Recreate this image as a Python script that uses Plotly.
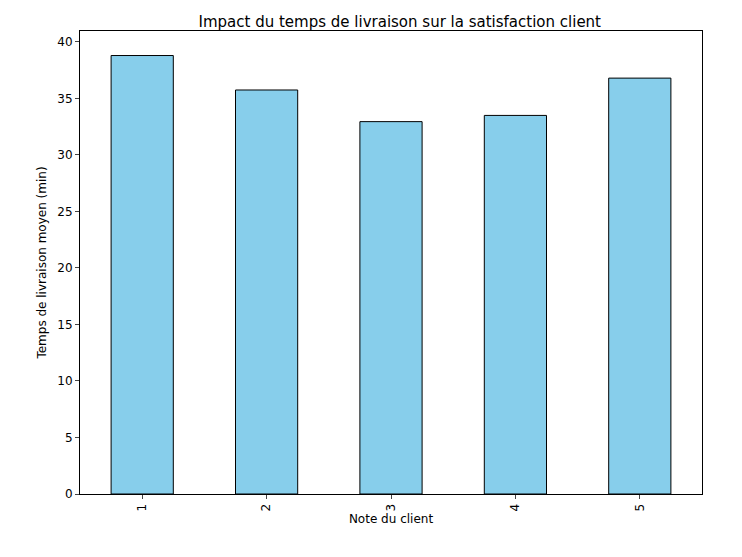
import plotly.graph_objects as go

notes = ["1", "2", "3", "4", "5"]
temps_moyen = [38.8, 35.75, 32.95, 33.5, 36.8]

fig = go.Figure(go.Bar(
    x=list(range(len(notes))), y=temps_moyen, width=0.5,
    marker=dict(color="skyblue", line=dict(color="black", width=1)),
))

fig.update_layout(
    width=742, height=557,
    paper_bgcolor="white", plot_bgcolor="white",
    margin=dict(l=72, r=48, t=23, b=71),
    font=dict(family="DejaVu Sans", size=12, color="black"),
    title=dict(text="Impact du temps de livraison sur la satisfaction client",
               x=0.528, y=0.985, xanchor="center", font=dict(size=15)),
    showlegend=False,
)
fig.update_xaxes(
    range=[-0.5, 4.5], tickmode="array", tickvals=list(range(len(notes))),
    ticktext=notes, tickangle=-90, ticks="outside", ticklen=4,
    showline=True, linecolor="black", mirror=True, showgrid=False,
    title=dict(text="Note du client", standoff=4, font=dict(size=12)),
)
fig.update_yaxes(
    range=[0, 40.97], dtick=5, ticks="outside", ticklen=4,
    showline=True, linecolor="black", mirror=True, showgrid=False, zeroline=False,
    title=dict(text="Temps de livraison moyen (min)", standoff=8, font=dict(size=12)),
)

fig.write_html("out.html")
